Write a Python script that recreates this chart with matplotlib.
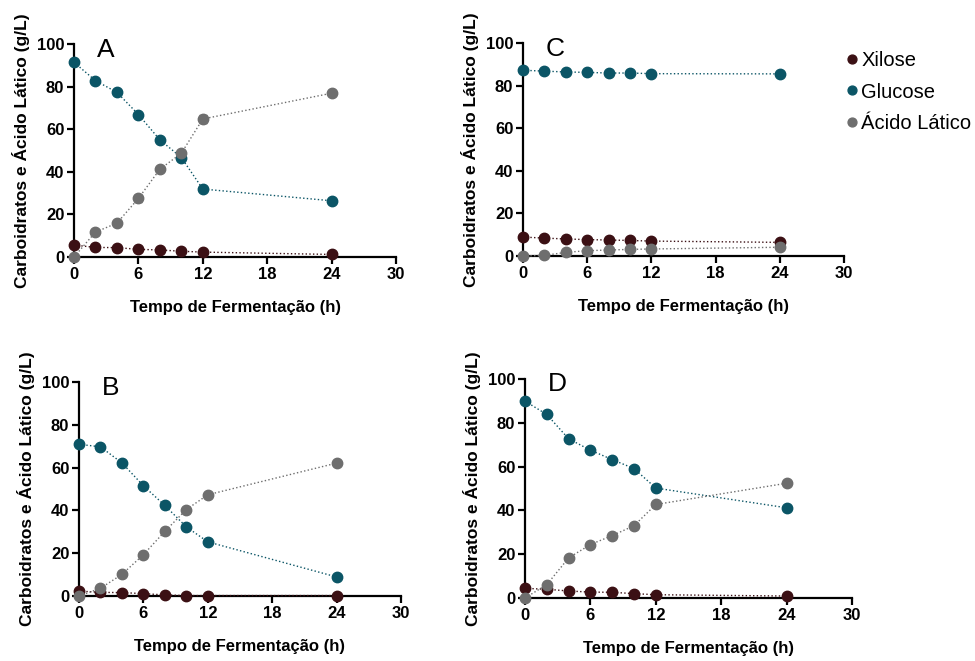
import numpy as np
from matplotlib import pyplot as plt

plt.rcParams['font.family'] = ['Liberation Sans', 'DejaVu Sans']

tempo = [0, 2, 4, 6, 8, 10, 12, 24]

# Painel A
xil_a = [5.6, 4.5, 4.4, 3.6, 3.3, 2.7, 2.3, 1.2]
glu_a = [91.4, 82.8, 77.3, 66.9, 55.0, 46.7, 31.9, 26.4]
lat_a = [0.0, 11.7, 15.9, 27.5, 41.2, 48.7, 64.8, 76.9]
lat_a_err = [0, 0.5, 0.5, 1.8, 0.5, 1.2, 1.8, 0.5]

# Painel B
xil_b = [2.3, 1.7, 1.6, 1.1, 0.5, 0.2, 0.2, 0.2]
glu_b = [70.9, 69.7, 62.2, 51.5, 42.3, 32.3, 25.3, 8.9]
lat_b = [0.0, 3.6, 10.1, 19.3, 30.2, 40.4, 47.3, 62.1]

# Painel C
xil_c = [8.9, 8.4, 8.0, 7.7, 7.5, 7.3, 7.0, 6.4]
glu_c = [87.2, 86.8, 86.4, 86.2, 85.9, 85.9, 85.6, 85.5]
lat_c = [0.0, 0.3, 1.7, 2.5, 2.8, 3.1, 3.3, 4.1]

# Painel D
xil_d = [4.4, 4.0, 3.2, 2.7, 2.6, 2.0, 1.5, 0.9]
glu_d = [89.9, 83.8, 72.7, 67.5, 63.2, 59.1, 50.2, 41.2]
lat_d = [0.0, 6.1, 18.3, 24.4, 28.5, 33.0, 42.7, 52.4]

c_xil = '#3b1014'
c_glu = '#0b5566'
c_lat = '#6e6e6e'

fig = plt.figure(figsize=(9.75, 6.61), dpi=100)
W, H = 975, 661


def add_ax(left, right, top, bottom):
    return fig.add_axes([left / W, 1 - bottom / H, (right - left) / W, (bottom - top) / H])


axA = add_ax(74, 396, 44, 257)
axC = add_ax(523, 844, 43, 256)
axB = add_ax(79, 401, 382, 596)
axD = add_ax(525, 852, 379, 598)

paineis = [
    (axA, 'A', xil_a, glu_a, lat_a, lat_a_err),
    (axC, 'C', xil_c, glu_c, lat_c, None),
    (axB, 'B', xil_b, glu_b, lat_b, None),
    (axD, 'D', xil_d, glu_d, lat_d, None),
]

for ax, letra, xil, glu, lat, err in paineis:
    ax.plot(tempo, xil, ':', color=c_xil, lw=1, marker='o', ms=7.5, clip_on=False, zorder=3, label='Xilose')
    ax.plot(tempo, glu, ':', color=c_glu, lw=1, marker='o', ms=7.5, clip_on=False, zorder=3, label='Glucose')
    ax.plot(tempo, lat, ':', color=c_lat, lw=1, marker='o', ms=7.5, clip_on=False, zorder=3, label='Ácido Lático')
    if err is not None:
        ax.errorbar(tempo, lat, yerr=err, fmt='none', ecolor=c_lat, elinewidth=1, capsize=3, zorder=2)
    ax.set_xlim(0, 30)
    ax.set_ylim(0, 100)
    ax.set_xticks([0, 6, 12, 18, 24, 30])
    ax.set_yticks([0, 20, 40, 60, 80, 100])
    for s in ['top', 'right']:
        ax.spines[s].set_visible(False)
    for s in ['left', 'bottom']:
        ax.spines[s].set_linewidth(1.6)
    ax.tick_params(direction='out', length=5, width=1.6, labelsize=12, pad=2)
    for lab in ax.get_xticklabels() + ax.get_yticklabels():
        lab.set_fontweight('bold')
    ax.set_xlabel('Tempo de Fermentação (h)', fontsize=12, fontweight='bold', labelpad=13)
    ax.set_ylabel('Carboidratos e Ácido Lático (g/L)', fontsize=12.5, fontweight='bold', labelpad=5)
    ax.text(2.1, 103, letra, fontsize=19, va='top', ha='left')

axC.legend(loc='upper left', bbox_to_anchor=(1.0, 1.0), frameon=False, fontsize=14.5,
           handlelength=0, handletextpad=0.45, labelspacing=0.62, markerscale=0.85,
           borderaxespad=0)

fig.savefig('out.png', dpi=100)
